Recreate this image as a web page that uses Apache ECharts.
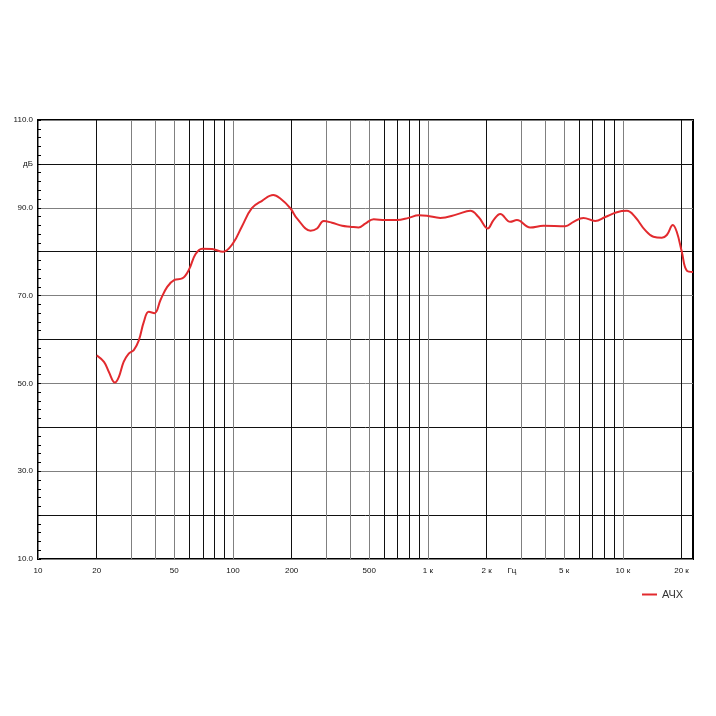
<!DOCTYPE html>
<html>
<head>
<meta charset="utf-8">
<script src="https://cdn.jsdelivr.net/npm/echarts@6/dist/echarts.min.js"></script>
<style>html,body{margin:0;padding:0;background:#fff;}#c{width:716px;height:716px;}</style>
</head>
<body>
<div id="c"></div>
<script>
// Frequency (Hz) and level (dB)
const freqHz = [20, 21.8, 23.1, 24.8, 26, 27.5, 29.2, 31, 32.9, 34.9, 37, 39.6, 42.5, 46, 50.1, 54.9, 59.3, 64.2, 69.5, 78.2, 89, 100, 111, 125, 141, 161, 175, 197, 213, 250, 270, 292, 322, 363, 400, 441, 477, 527, 604, 694, 796, 896, 989, 1157, 1409, 1649, 1819, 2027, 2171, 2350, 2644, 2862, 3348, 3917, 5060, 5581, 6281, 7211, 8117, 9317, 10484, 11561, 13010, 14350, 15846, 16812, 18048, 18917, 20062, 21288, 22900];
const levelDb = [56.4, 54.9, 52.6, 50.2, 51.5, 54.9, 56.8, 57.6, 59.8, 64.0, 66.3, 66.0, 69.0, 72.0, 73.6, 73.9, 75.8, 79.4, 80.7, 80.6, 80.0, 81.9, 85.7, 89.9, 91.6, 92.9, 92.1, 89.9, 87.6, 84.8, 85.3, 87.0, 86.6, 85.9, 85.7, 85.5, 86.4, 87.4, 87.2, 87.2, 87.7, 88.3, 88.2, 87.7, 88.5, 89.3, 87.9, 85.3, 87.2, 88.6, 86.8, 87.2, 85.5, 85.9, 85.8, 86.8, 87.7, 87.0, 87.9, 89.0, 89.3, 87.9, 84.9, 83.4, 83.2, 83.8, 86.1, 84.5, 80.0, 75.7, 75.4];
const seriesName = 'АЧХ';
// Axis ticks / labels
const xGridHz = [10,20,30,40,50,60,70,80,90,100,200,300,400,500,600,700,800,900,1000,2000,3000,4000,5000,6000,7000,8000,9000,10000,20000];
const xLabelHz = [10,20,50,100,200,500,1000,2000,3000,5000,10000,20000];
const xLabelText = {10:'10',20:'20',50:'50',100:'100',200:'200',500:'500',1000:'1 к',2000:'2 к',3000:'Гц',5000:'5 к',10000:'10 к',20000:'20 к'};
const yLabelText = {110:'110.0',100:'дБ',90:'90.0',70:'70.0',50:'50.0',30:'30.0',10:'10.0'};
const xMinHz = 10, xMaxHz = 22900;

const lg = Math.log10;
const gridColors = xGridHz.map(f => {
  const d = Math.round(f / Math.pow(10, Math.floor(lg(f) + 1e-9)));
  return (d === 1 || d === 3 || d === 4 || d === 5) ? '#808080' : '#111';
});
const font = '"Liberation Sans Narrow", "Liberation Sans", Arial, sans-serif';

const chart = echarts.init(document.getElementById('c'), null, {renderer: 'canvas'});
chart.setOption({
  animation: false,
  backgroundColor: '#fff',
  grid: {left: 38, right: 23, top: 120, bottom: 157, show: true, borderColor: '#000', borderWidth: 2, backgroundColor: 'transparent'},
  legend: {
    data: [{name: seriesName, icon: 'rect'}],
    left: 642, top: 589, padding: 0, itemWidth: 15, itemHeight: 2, itemGap: 5,
    textStyle: {fontSize: 11, color: '#333', fontFamily: '"Liberation Sans", Arial, sans-serif'}
  },
  xAxis: {
    type: 'value', min: lg(xMinHz), max: lg(xMaxHz),
    axisLine: {show: false},
    axisTick: {show: false, customValues: xGridHz.map(lg)},
    splitLine: {show: true, lineStyle: {color: gridColors, width: 1}},
    axisLabel: {
      customValues: xLabelHz.map(lg), margin: 8, fontSize: 8, color: '#111', fontFamily: font,
      formatter: v => {
        const f = Math.round(Math.pow(10, v));
        const t = xLabelText[f] || '';
        return f === 3000 ? '{hz|' + t + '}' : t;
      },
      rich: {hz: {fontSize: 8, color: '#111', fontFamily: font, padding: [0, 18, 0, 0]}}
    }
  },
  yAxis: {
    type: 'value', min: 10, max: 110, interval: 10,
    axisLine: {show: false},
    axisTick: {show: true, inside: true, length: 3, lineStyle: {color: '#000'}},
    minorTick: {show: true, splitNumber: 5, length: 3, lineStyle: {color: '#000'}},
    splitLine: {show: true, lineStyle: {color: ['#808080', '#111'], width: 1}},
    axisLabel: {
      margin: 5, fontSize: 8, color: '#111', fontFamily: font,
      formatter: v => yLabelText[Math.round(v)] || ''
    }
  },
  series: [{
    name: seriesName, type: 'line', smooth: 0.4, showSymbol: false,
    lineStyle: {color: '#e22a2e', width: 2},
    itemStyle: {color: '#e22a2e'},
    data: freqHz.map((f, i) => [lg(f), levelDb[i]])
  }]
});
</script>
</body>
</html>
